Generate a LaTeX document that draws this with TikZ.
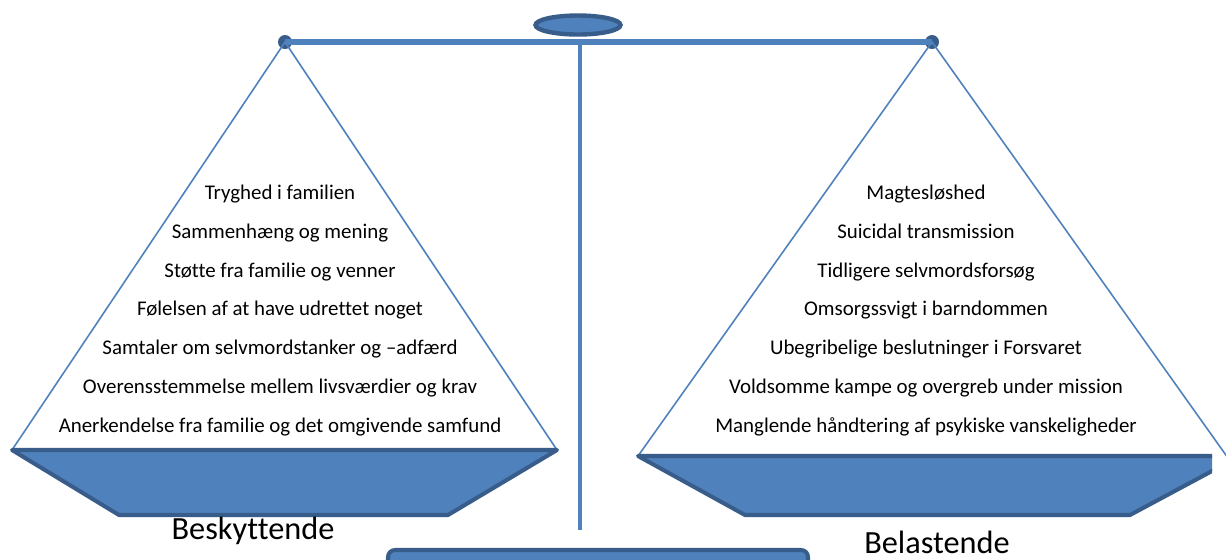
\documentclass[tikz,border=0pt]{standalone}
\usepackage{fontspec}
\setmainfont{Carlito}[Ligatures=NoCommon]
\usetikzlibrary{shapes.geometric}
\definecolor{panblue}{HTML}{4F81BD}
\definecolor{pandark}{HTML}{385D8A}
\tikzset{
    pan/.style={fill=panblue,draw=pandark,line width=2.3pt,line join=round},
    string/.style={draw=panblue,line width=0.9pt},
    pivot/.style={circle,fill=pandark,inner sep=0pt,minimum size=0.28cm},
    item/.style={font=\fontsize{11.9}{13}\selectfont,inner sep=1pt,text height=8.5pt,text depth=2.5pt},
    side/.style={font=\fontsize{18.4}{21}\selectfont,inner sep=1pt}
}
\begin{document}
\begin{tikzpicture}[x=0.02cm,y=-0.02cm]
    \clip (0,0) rectangle (1226,559);
    \fill[white] (0,0) rectangle (1226,559);
    % stand
    \draw[fill=panblue,draw=pandark,line width=2.3pt,rounded corners=4pt] (388,550) rectangle (808,580);
    \draw[panblue,line width=2.8pt] (580,45) -- (580,530);
    % beam and pivots
    \node[pivot] (lpivot) at (285,42) {};
    \node[pivot] (rpivot) at (932,42) {};
    \draw[panblue,line width=3pt] (lpivot.center) -- (rpivot.center);
    \node[ellipse,fill=panblue,draw=pandark,line width=2.5pt,minimum width=1.7cm,minimum height=0.38cm] (knob) at (578,25) {};
    % left pan
    \coordinate (lpanl) at (12,450);
    \coordinate (lpanr) at (557,450);
    \draw[string] (lpanl) -- (lpivot.center) -- (lpanr);
    \draw[pan] (lpanl) -- (lpanr) -- (448,515) -- (119,515) -- cycle;
    % right pan
    \coordinate (rpanl) at (638,456);
    \coordinate (rpanr) at (1228,458);
    \draw[string] (rpanl) -- (rpivot.center) -- (rpanr);
    \begin{scope}
        \clip (600,430) rectangle (1212,540);
        \draw[pan] (rpanl) -- (1240,456) -- (1130,515) -- (745,515) -- cycle;
    \end{scope}
    % factors
    \foreach \t [count=\i] in {Tryghed i familien,Sammenhæng og mening,Støtte fra familie og venner,Følelsen af at have udrettet noget,Samtaler om selvmordstanker og –adfærd,Overensstemmelse mellem livsværdier og krav,Anerkendelse fra familie og det omgivende samfund}
        \node[item] (l\i) at (280,155.5+38.8*\i) {\t};
    \foreach \t [count=\i] in {Magtesløshed,Suicidal transmission,Tidligere selvmordsforsøg,Omsorgssvigt i barndommen,Ubegribelige beslutninger i Forsvaret,Voldsomme kampe og overgreb under mission,Manglende håndtering af psykiske vanskeligheder}
        \node[item] (r\i) at (926,155.5+38.8*\i) {\t};
    \node[side] (protect) at (253,531) {Beskyttende};
    \node[side] (burden) at (937,542) {Belastende};
\end{tikzpicture}
\end{document}
